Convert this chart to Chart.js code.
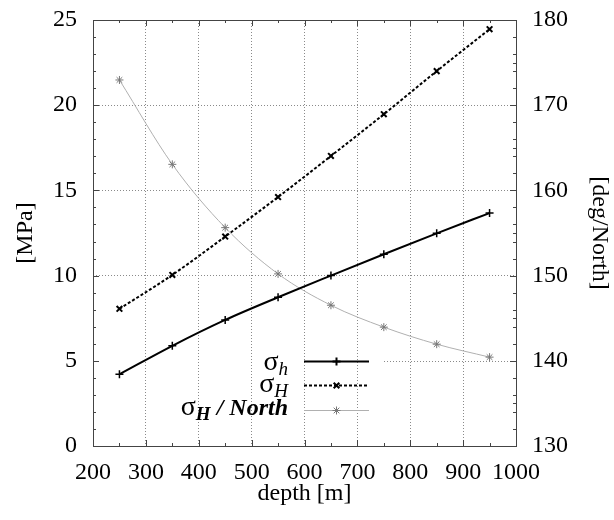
<!DOCTYPE html>
<html>
<head>
<meta charset="utf-8">
<script src="https://cdn.jsdelivr.net/npm/chart.js@4/dist/chart.umd.min.js"></script>
<style>
  html, body { margin: 0; padding: 0; background: #fff; }
  #c { display: block; }
</style>
</head>
<body>
<canvas id="c" width="614" height="520"></canvas>
<script>
// ---- data ----
const depth        = [250, 350, 450, 550, 650, 750, 850, 950];           // [m]
const sigmaMin     = [4.21, 5.88, 7.40, 8.73, 10.0, 11.25, 12.48, 13.67]; // σh [MPa]
const sigmaMax     = [8.05, 10.04, 12.29, 14.61, 17.02, 19.47, 22.0, 24.46]; // σH [MPa]
const sigmaMaxDir  = [172.96, 163.06, 155.63, 150.2, 146.52, 143.95, 141.95, 140.43]; // σH/North [deg]
const xRange  = [200, 1000];
const yRange  = [0, 25];
const y2Range = [130, 180];
const xStep = 100, yStep = 5, y2Step = 10;

const SERIF = '"Liberation Serif", "Times New Roman", serif';
const tickFont = { family: SERIF, size: 24 };
const GRID = '#8a8a8a';

const pts = arr => depth.map((d, i) => ({ x: d, y: arr[i] }));
const plain = v => String(v);

function gridColor(lo, hi) {
  return c => (c.tick && (c.tick.value === lo || c.tick.value === hi)) ? 'rgba(0,0,0,0)' : GRID;
}

// frame, inner ticks and the partial 5-MPa grid line
const framePlugin = {
  id: 'frame',
  beforeDatasetsDraw(chart) {
    const { ctx, chartArea: a, scales } = chart;
    const x = scales.x, y = scales.y, y2 = scales.y2;
    const r = v => Math.round(v) + 0.5;
    ctx.save();
    ctx.strokeStyle = GRID; ctx.lineWidth = 1; ctx.setLineDash([1, 2]);
    const yy = r(y.getPixelForValue(5));
    ctx.beginPath(); ctx.moveTo(384, yy); ctx.lineTo(a.right, yy); ctx.stroke();
    ctx.setLineDash([]);
    ctx.strokeStyle = '#444';
    ctx.strokeRect(r(a.left), r(a.top), Math.round(a.right) - Math.round(a.left), Math.round(a.bottom) - Math.round(a.top));
    ctx.beginPath();
    for (let v = xRange[0]; v <= xRange[1]; v += xStep / 2) {
      const px = r(x.getPixelForValue(v));
      const len = (v % xStep === 0) ? 6 : 3;
      ctx.moveTo(px, a.bottom); ctx.lineTo(px, a.bottom - len);
      ctx.moveTo(px, a.top); ctx.lineTo(px, a.top + len);
    }
    for (let v = yRange[0]; v <= yRange[1]; v += 1) {
      const py = r(y.getPixelForValue(v));
      const len = (v % yStep === 0) ? 6 : 3;
      ctx.moveTo(a.left, py); ctx.lineTo(a.left + len, py);
      ctx.moveTo(a.right, py); ctx.lineTo(a.right - len, py);
    }
    for (let v = y2Range[0]; v <= y2Range[1]; v += y2Step / 2) {
      const py = r(y2.getPixelForValue(v));
      const len = (v % y2Step === 0) ? 6 : 3;
      ctx.moveTo(a.right, py); ctx.lineTo(a.right - len, py);
    }
    ctx.stroke();
    ctx.restore();
  }
};

// key drawn like the reference (σ with subscripts)
const keyPlugin = {
  id: 'key',
  afterDatasetsDraw(chart) {
    const ctx = chart.ctx;
    const rows = [
      { ds: 0, lineY: 361, base: 370, sub: 'h', subFont: 'italic 19px ' + SERIF, extra: '', extraFont: '' },
      { ds: 1, lineY: 385, base: 392, sub: 'H', subFont: 'italic 19px ' + SERIF, extra: '', extraFont: '' },
      { ds: 2, lineY: 410, base: 415, sub: 'H', subFont: 'bold italic 19px ' + SERIF, extra: ' / North', extraFont: 'bold italic 24px ' + SERIF }
    ];
    const sigFont = '28px ' + SERIF;
    const textRight = 288, x0 = 304, x1 = 369;
    ctx.save();
    ctx.fillStyle = '#000';
    ctx.textBaseline = 'alphabetic';
    ctx.textAlign = 'left';
    rows.forEach(row => {
      ctx.font = sigFont; const wS = ctx.measureText('σ').width;
      ctx.font = row.subFont; const wSub = ctx.measureText(row.sub).width;
      let wE = 0;
      if (row.extra) { ctx.font = row.extraFont; wE = ctx.measureText(row.extra).width; }
      let xs = textRight - (wS + wSub + wE);
      ctx.font = sigFont; ctx.fillText('σ', xs, row.base); xs += wS;
      ctx.font = row.subFont; ctx.fillText(row.sub, xs, row.base + 5); xs += wSub;
      if (row.extra) { ctx.font = row.extraFont; ctx.fillText(row.extra, xs, row.base); }
      const ds = chart.data.datasets[row.ds];
      ctx.strokeStyle = ds.borderColor; ctx.lineWidth = ds.borderWidth;
      ctx.setLineDash(ds.borderDash || []);
      ctx.beginPath(); ctx.moveTo(x0, row.lineY + 0.5); ctx.lineTo(x1, row.lineY + 0.5); ctx.stroke();
      ctx.setLineDash([]);
      ctx.strokeStyle = ds.pointBorderColor; ctx.fillStyle = ds.pointBorderColor;
      Chart.helpers.drawPoint(ctx, { pointStyle: ds.pointStyle, radius: ds.pointRadius, rotation: 0, borderWidth: ds.pointBorderWidth }, (x0 + x1) / 2, row.lineY + 0.5);
      ctx.fillStyle = '#000';
    });
    ctx.restore();
  }
};

new Chart(document.getElementById('c'), {
  type: 'line',
  data: {
    datasets: [
      { label: 'σh', data: pts(sigmaMin), yAxisID: 'y', borderColor: '#000', borderWidth: 2,
        pointStyle: 'cross', pointRadius: 4, pointBorderWidth: 1.5, pointBorderColor: '#000',
        cubicInterpolationMode: 'monotone', fill: false },
      { label: 'σH', data: pts(sigmaMax), yAxisID: 'y', borderColor: '#000', borderWidth: 2, borderDash: [3, 2],
        pointStyle: 'crossRot', pointRadius: 4, pointBorderWidth: 2, pointBorderColor: '#000',
        cubicInterpolationMode: 'monotone', fill: false },
      { label: 'σH / North', data: pts(sigmaMaxDir), yAxisID: 'y2', borderColor: '#b0b0b0', borderWidth: 1,
        pointStyle: 'star', pointRadius: 4, pointBorderWidth: 1, pointBorderColor: '#777',
        cubicInterpolationMode: 'monotone', fill: false }
    ]
  },
  options: {
    responsive: false, animation: false, devicePixelRatio: 1,
    layout: { padding: { top: 20, left: 0, right: 0, bottom: 0 } },
    plugins: { legend: { display: false }, tooltip: { enabled: false } },
    scales: {
      x: {
        type: 'linear', min: xRange[0], max: xRange[1],
        ticks: { stepSize: xStep, font: tickFont, color: '#000', padding: 12, maxRotation: 0, autoSkip: false, callback: plain },
        grid: { drawTicks: false, color: gridColor(xRange[0], xRange[1]), lineWidth: 1 },
        border: { display: false, dash: [1, 2] },
        title: { display: true, text: 'depth [m]', font: tickFont, color: '#000', padding: { top: 0, bottom: 12 } },
        afterFit(s) { s.height = 74; s.paddingLeft = 0; s.paddingRight = 0; }
      },
      y: {
        position: 'left', min: yRange[0], max: yRange[1],
        ticks: { stepSize: yStep, font: tickFont, color: '#000', padding: 16, callback: plain },
        grid: { drawTicks: false, color: c => (c.tick && [0, 5, 25].includes(c.tick.value)) ? 'rgba(0,0,0,0)' : GRID, lineWidth: 1 },
        border: { display: false, dash: [1, 2] },
        title: { display: true, text: '[MPa]', font: tickFont, color: '#000', padding: { top: 11, bottom: 0 } },
        afterFit(s) { s.width = 93; s.paddingTop = 0; s.paddingBottom = 0; }
      },
      y2: {
        position: 'right', min: y2Range[0], max: y2Range[1],
        ticks: { stepSize: y2Step, font: tickFont, color: '#000', padding: 16, callback: plain },
        grid: { drawTicks: false, drawOnChartArea: false },
        border: { display: false },
        title: { display: true, text: '[deg/North]', font: tickFont, color: '#000', padding: { top: 0, bottom: 0 } },
        afterFit(s) { s.width = 98; s.paddingTop = 0; s.paddingBottom = 0; }
      }
    }
  },
  plugins: [framePlugin, keyPlugin]
});
</script>
</body>
</html>
